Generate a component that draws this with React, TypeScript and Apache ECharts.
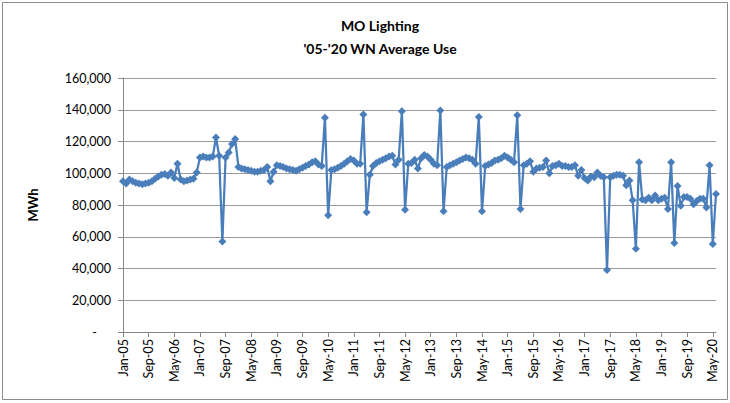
import React, { useEffect, useRef } from "react";
import * as echarts from "echarts";

const TITLE = "MO Lighting";
const SUBTITLE = "'05-'20 WN Average Use";
const Y_NAME = "MWh";

const MONTHS = ["Jan", "Feb", "Mar", "Apr", "May", "Jun", "Jul", "Aug", "Sep", "Oct", "Nov", "Dec"];
const START_YEAR = 2005;
const Y_TICKS = [0, 20000, 40000, 60000, 80000, 100000, 120000, 140000, 160000];

// Monthly MWh, Jan-05 .. Jun-20
const usage = [
  95000, 93500, 96000, 95000, 94000, 93500, 93000, 93500, 94000, 95000, 96500, 98000,
  99000, 99500, 98500, 100500, 97000, 106000, 96000, 95000, 95500, 96000, 96500, 100500,
  110000, 110500, 110000, 110000, 110500, 122500, 111000, 57000, 110000, 113000, 118500, 121500,
  104000, 103000, 102500, 102000, 101500, 101000, 101000, 101500, 102000, 104000, 95000, 101000,
  105000, 104500, 104000, 103000, 102500, 102000, 101500, 102500, 103500, 104500, 105500, 107000,
  107500, 105500, 104500, 135000, 73500, 102000, 102500, 103500, 104500, 106000, 107500, 109000,
  108000, 106000, 106000, 137000, 75500, 99000, 104500, 106500, 107500, 108500, 109500, 110500,
  111000, 105500, 108500, 139000, 77000, 106000, 106500, 108500, 103000, 109500, 111500, 110500,
  108500, 106000, 105000, 139500, 76000, 104000, 105000, 106000, 107000, 108000, 109000, 110000,
  109500, 108500, 106000, 135500, 76000, 104500, 105500, 106500, 108000, 108500, 109500, 111000,
  110000, 108500, 107000, 136500, 77500, 105000, 106000, 107500, 101000, 103000, 103500, 104000,
  108000, 100000, 104500, 105000, 106000, 104500, 104500, 104000, 104000, 105000, 98500, 102000,
  97000, 95500, 98000, 97500, 100500, 98500, 97500, 39000, 97500, 98500, 99000, 99000,
  98500, 92500, 95500, 83000, 52500, 107000, 83500, 83000, 84500, 83000, 86000, 83000,
  84000, 84500, 77500, 107000, 56000, 92000, 79500, 85000, 85000, 84000, 80500, 82500,
  84000, 84000, 78500, 105000, 55500, 87000,
];

const categories = usage.map((_, i) => {
  const y = START_YEAR + Math.floor(i / 12);
  return `${MONTHS[i % 12]}-${String(y % 100).padStart(2, "0")}`;
});

const FONT = "Lato, 'Liberation Sans', sans-serif";

export default function App() {
  const ref = useRef<HTMLDivElement>(null);

  useEffect(() => {
    document.body.style.margin = "0";
    const chart = echarts.init(ref.current!, null, { renderer: "svg" });
    chart.setOption({
      animation: false,
      backgroundColor: "#ffffff",
      textStyle: { fontFamily: FONT },
      graphic: [
        {
          type: "rect",
          shape: { x: 2.5, y: 2.5, width: 725, height: 397 },
          style: { fill: "none", stroke: "#8c8c8c", lineWidth: 1 },
          silent: true,
        },
        {
          type: "text",
          x: 380,
          y: 25,
          style: {
            text: TITLE,
            font: `bold 14px ${FONT}`,
            fill: "#000",
            align: "center",
            verticalAlign: "middle",
          },
        },
        {
          type: "text",
          x: 380,
          y: 48,
          style: {
            text: SUBTITLE,
            font: `bold 14px ${FONT}`,
            fill: "#000",
            align: "center",
            verticalAlign: "middle",
          },
        },
        {
          type: "text",
          x: 33,
          y: 205,
          rotation: Math.PI / 2,
          style: {
            text: Y_NAME,
            font: `bold 13px ${FONT}`,
            fill: "#000",
            align: "center",
            verticalAlign: "middle",
          },
        },
      ],
      grid: { left: 123, right: 14, top: 78, bottom: 71, containLabel: false },
      xAxis: {
        type: "category",
        data: categories,
        boundaryGap: false,
        axisLine: { lineStyle: { color: "#868686", width: 1 } },
        axisTick: { show: true, interval: 7, length: 5, lineStyle: { color: "#868686" } },
        axisLabel: {
          interval: 7,
          rotate: 90,
          fontSize: 12.5,
          color: "#000",
          fontFamily: FONT,
          margin: 7,
        },
        splitLine: { show: false },
      },
      yAxis: {
        type: "value",
        min: Y_TICKS[0],
        max: Y_TICKS[Y_TICKS.length - 1],
        interval: Y_TICKS[1] - Y_TICKS[0],
        axisLine: { show: true, lineStyle: { color: "#868686", width: 1 } },
        axisTick: { show: true, length: 5, lineStyle: { color: "#868686" } },
        axisLabel: {
          fontSize: 12.5,
          color: "#000",
          fontFamily: FONT,
          margin: 12,
          formatter: (v: number) =>
            v === 0 ? "{d|-}" : v.toLocaleString("en-US"),
          rich: { d: { fontSize: 12.5, color: "#000", fontFamily: FONT, padding: [0, 14, 0, 0] } },
        },
        splitLine: { show: true, lineStyle: { color: "#9a9a9a", width: 1 } },
      },
      series: [
        {
          type: "line",
          data: usage,
          symbol: "diamond",
          symbolSize: 8,
          showAllSymbol: true,
          lineStyle: { color: "#4a7ebb", width: 2.25 },
          itemStyle: { color: "#4a7ebb" },
        },
      ],
    });
    return () => chart.dispose();
  }, []);

  return (
    <div
      ref={ref}
      style={{ position: "fixed", left: 0, top: 0, width: 730, height: 403 }}
    />
  );
}
